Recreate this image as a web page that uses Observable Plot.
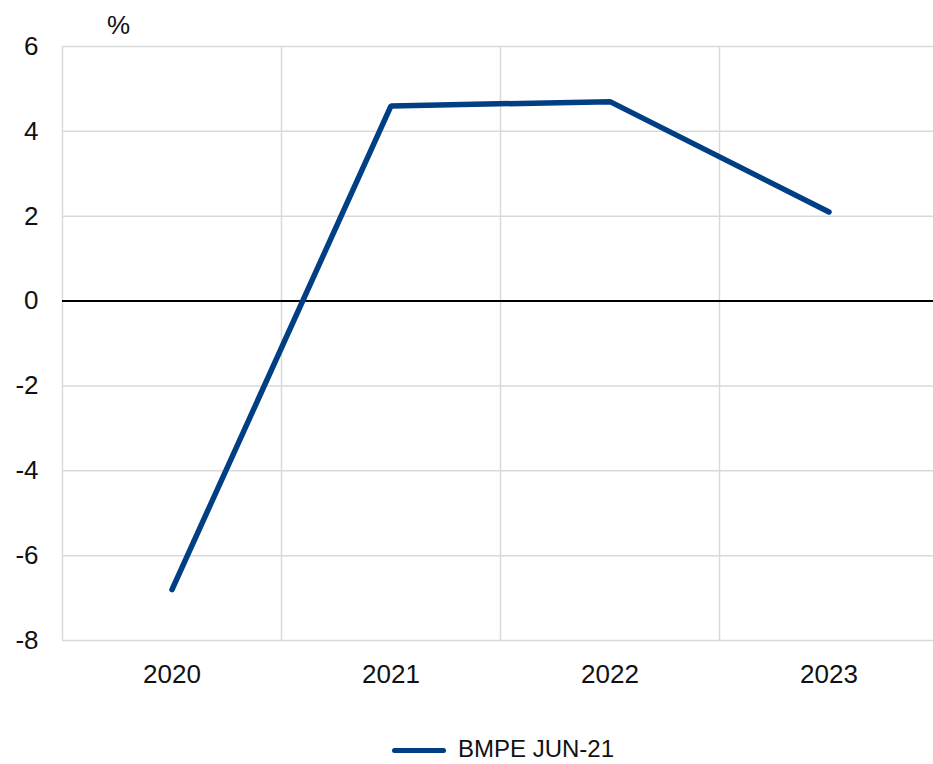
<!DOCTYPE html>
<html>
<head>
<meta charset="utf-8">
<script src="https://cdn.jsdelivr.net/npm/d3@7"></script>
<script src="https://cdn.jsdelivr.net/npm/@observablehq/plot@0.6"></script>
<style>
  html, body { margin: 0; padding: 0; background: #fff; }
  body { width: 933px; height: 764px; position: relative; overflow: hidden; font-family: "Liberation Sans", Arial, sans-serif; }
  #legend { position: absolute; bottom: 1px; left: 392px; line-height: normal; display: flex; align-items: center; font-size: 24px; color: #111; white-space: nowrap; }
  #legend .sw { width: 54px; height: 5px; border-radius: 3px; background: #003f83; margin-right: 12px; margin-top: 2px; }
</style>
</head>
<body>
<div id="chart"></div>
<div id="legend"><span class="sw"></span><span>BMPE JUN-21</span></div>
<script>
const years = [2020, 2021, 2022, 2023];
const values = [-6.8, 4.6, 4.7, 2.1];
const seriesName = "BMPE JUN-21";
const yTicks = [-8, -6, -4, -2, 0, 2, 4, 6];
const bandEdges = [2019.5, 2020.5, 2021.5, 2022.5];

const data = years.map((y, i) => ({year: y, value: values[i], series: seriesName}));

const chart = Plot.plot({
  width: 933,
  height: 715,
  marginTop: 46,
  marginBottom: 75,
  marginLeft: 62,
  marginRight: 0,
  style: {fontFamily: "Liberation Sans, Arial, sans-serif", fontSize: "26px", color: "#111", background: "#fff"},
  x: {type: "linear", domain: [2019.5, 2023.5], range: [62, 938]},
  y: {domain: [-8, 6], range: [640, 46]},
  marks: [
    Plot.ruleY(yTicks.filter(d => d !== 0), {stroke: "#d9d9d9", strokeWidth: 1.5}),
    Plot.ruleX(bandEdges, {stroke: "#d9d9d9", strokeWidth: 1.5}),
    Plot.ruleY([0], {stroke: "#000", strokeWidth: 2}),
    Plot.axisX(years, {tickSize: 0, tickPadding: 24, tickFormat: d => String(d), label: null, fontSize: 26}),
    Plot.axisY(yTicks, {tickSize: 0, tickPadding: 24, tickFormat: d => String(d), label: null, fontSize: 26}),
    Plot.line(data, {x: "year", y: "value", stroke: "#003f83", strokeWidth: 5.5, strokeLinecap: "round", strokeLinejoin: "miter"}),
    Plot.text(["%"], {frameAnchor: "top-left", textAnchor: "middle", lineAnchor: "middle", dx: 56, dy: -21, fontSize: 26})
  ]
});
document.getElementById("chart").appendChild(chart);
</script>
</body>
</html>
